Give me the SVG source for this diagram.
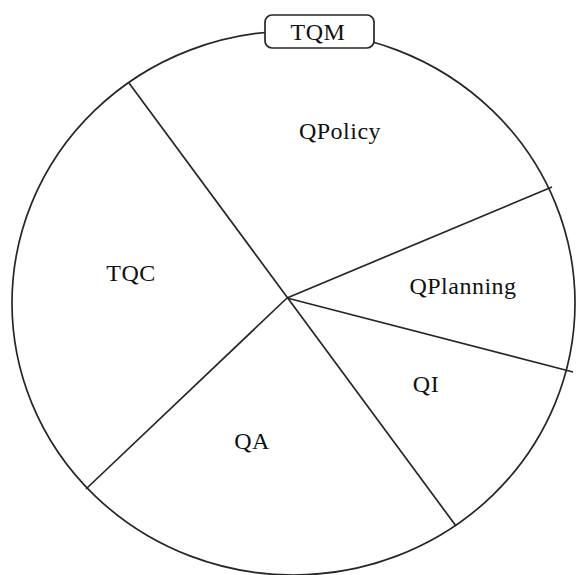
<svg xmlns="http://www.w3.org/2000/svg" width="576" height="575" viewBox="0 0 576 575">
<style>
.ln{stroke:#262626;stroke-width:1.7;fill:none}
.lbl{font-family:"Liberation Serif","Times New Roman",serif;font-size:24px;fill:#111;text-anchor:middle;letter-spacing:0.5px}
</style>
<rect width="576" height="575" fill="#fff"/>
<g id="connectors">
<ellipse class="ln" cx="293.5" cy="303" rx="281.5" ry="272"/>
<line class="ln" x1="129" y1="83" x2="456" y2="526"/>
<line class="ln" x1="287" y1="298" x2="552" y2="187"/>
<line class="ln" x1="287" y1="298" x2="573" y2="372"/>
<line class="ln" x1="287" y1="298" x2="86" y2="489"/>
</g>
<g id="TQM">
<rect x="265" y="15" width="109" height="33" rx="7" fill="#fff" stroke="#262626" stroke-width="1.7"/>
<text class="lbl" x="318" y="40">TQM</text>
</g>
<g id="QPolicy"><text class="lbl" x="340" y="139">QPolicy</text></g>
<g id="QPlanning"><text class="lbl" x="463" y="294">QPlanning</text></g>
<g id="TQC"><text class="lbl" x="131" y="281">TQC</text></g>
<g id="QI"><text class="lbl" x="426" y="392">QI</text></g>
<g id="QA"><text class="lbl" x="252" y="449">QA</text></g>
</svg>
